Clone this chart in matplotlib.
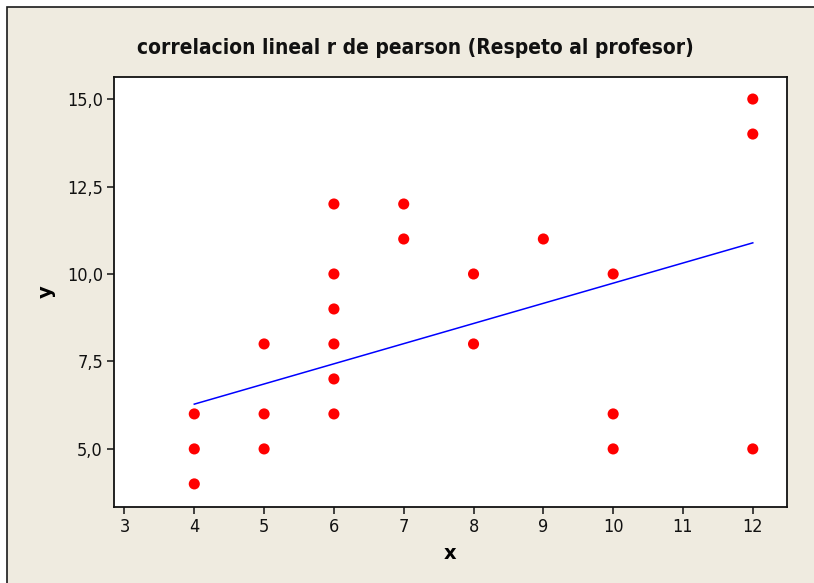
import matplotlib
matplotlib.use("Agg")
import matplotlib.pyplot as plt
from matplotlib.patches import Rectangle
from matplotlib.ticker import FuncFormatter, FixedLocator

# Data
x_vals = [4, 4, 4, 5, 5, 5, 6, 6, 6, 6, 6, 6, 7, 7, 8, 8, 9, 10, 10, 10, 12, 12, 12]
y_vals = [6, 5, 4, 8, 6, 5, 12, 10, 9, 8, 7, 6, 12, 11, 10, 8, 11, 10, 6, 5, 15, 14, 5]
fit_x = [4, 12]
fit_y = [6.28, 10.89]
x_ticks = [3, 4, 5, 6, 7, 8, 9, 10, 11, 12]
y_ticks = [5.0, 7.5, 10.0, 12.5, 15.0]

title = "correlacion lineal r de pearson (Respeto al profesor)"
fam = ["DejaVu Sans Condensed", "DejaVu Sans"]

W, H = 814, 583
fig = plt.figure(figsize=(W / 100, H / 100), dpi=100, facecolor="white")

# outer beige panel with border (cropped on right/bottom)
fig.patches.append(Rectangle((7 / W, -0.05), 1.2, (H - 7) / H + 0.05,
                             transform=fig.transFigure, facecolor="#EFEBE0",
                             edgecolor="#1a1a1a", linewidth=1.2, zorder=-10))

ax = fig.add_axes([114 / W, (H - 507) / H, (787 - 114) / W, (507 - 77) / H])
ax.set_zorder(5)
ax.set_facecolor("white")
ax.scatter(x_vals, y_vals, s=64, color="#FF0000", edgecolors="none", zorder=3)
ax.plot(fit_x, fit_y, color="#0000FF", linewidth=1.1, zorder=2)

ax.set_xlim(2.85, 12.49)
ax.set_ylim(3.34, 15.63)
ax.xaxis.set_major_locator(FixedLocator(x_ticks))
ax.yaxis.set_major_locator(FixedLocator(y_ticks))
ax.yaxis.set_major_formatter(FuncFormatter(lambda v, p: f"{v:.1f}".replace(".", ",")))
ax.xaxis.set_major_formatter(FuncFormatter(lambda v, p: f"{int(v)}"))

for sp in ax.spines.values():
    sp.set_linewidth(1.3)
    sp.set_color("#111111")
ax.tick_params(direction="out", length=5, width=1.1, color="#111111",
               labelsize=13, pad=3)
for lab in ax.get_xticklabels() + ax.get_yticklabels():
    lab.set_family(fam)
    lab.set_stretch("condensed")
    lab.set_color("#111111")

ax.set_xlabel("x", fontsize=14, fontweight="bold", family=fam, labelpad=6)
ax.set_ylabel("y", fontsize=14, fontweight="bold", family=fam, labelpad=8)

fig.text(415 / W, 1 - 48 / H, title, ha="center", va="center",
         fontsize=15, fontweight="bold", family=fam, stretch="condensed",
         color="#111111")

fig.savefig("out.png", dpi=100, facecolor=fig.get_facecolor())
